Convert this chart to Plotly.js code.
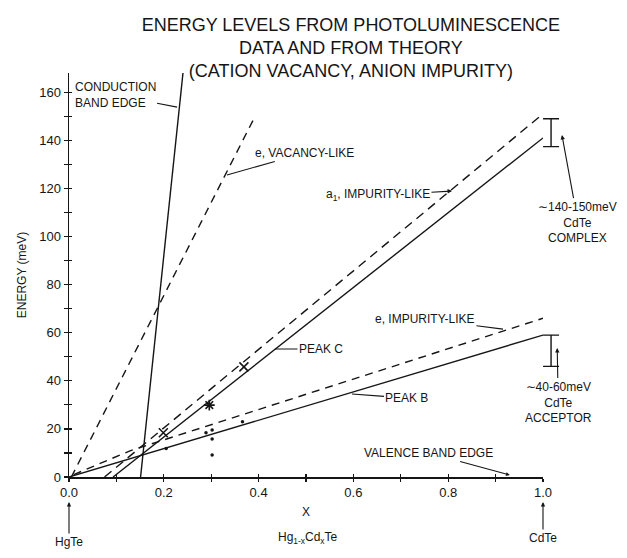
<!DOCTYPE html>
<html>
<head>
<meta charset="utf-8">
<script src="https://cdn.plot.ly/plotly-3.0.1.min.js"></script>
<style>html,body{margin:0;padding:0;background:#fff;}#chart{width:627px;height:558px;}</style>
</head>
<body>
<div id="chart"></div>
<script>
// ---- data ----
const xConduction = [0.151, 0.241];
const yConduction = [0, 169];
const xVacancy = [0.005, 0.39];
const yVacancy = [0, 149];
const xA1 = [0.075, 1.0];
const yA1 = [0, 151];
const xPeakC = [0.093, 1.0];
const yPeakC = [0, 141];
const xEImp = [0.01, 0.13, 1.0];
const yEImp = [1, 11, 66];
const xPeakB = [0, 1.0];
const yPeakB = [0, 59];
const xPeakCData = [0.199, 0.296, 0.369];
const yPeakCData = [18.4, 29.9, 45.8];
const symPeakCData = ['x-thin-open', 'asterisk-open', 'x-thin-open'];
const xDots = [0.205, 0.289, 0.302, 0.302, 0.302, 0.366];
const yDots = [11.9, 18.4, 19.5, 15.8, 9.1, 23.0];
const xCdTe = [1.017, 1.017];
const yCdTeMid = [143.2, 52.5];
const yCdTeHalf = [5.8, 6.5];
const xTicks = [0, 0.2, 0.4, 0.6, 0.8, 1.0];
const yTicks = [0, 20, 40, 60, 80, 100, 120, 140, 160];

const ink = '#151515';
const FONT = 'Liberation Sans, Arial, sans-serif';
const X_MAX = 1.0, Y_MAX = 168;
const PLOT_W = 498, AXIS_W = 474;          // px: full plot strip, main x-axis length
const X3_MAX = X_MAX * PLOT_W / AXIS_W;    // same scale, wider strip for the CdTe bars

const line = (x, y, dash) => ({
  x: x, y: y, mode: 'lines', type: 'scatter', hoverinfo: 'skip',
  line: {color: ink, width: 1.4, dash: dash || 'solid'}, showlegend: false
});

const data = [
  line(xConduction, yConduction),
  line(xVacancy, yVacancy, '8px,6px'),
  line(xA1, yA1, '9px,6px'),
  line(xPeakC, yPeakC),
  line(xEImp, yEImp, '8px,6px'),
  line(xPeakB, yPeakB),
  {x: xPeakCData, y: yPeakCData, mode: 'markers', type: 'scatter', showlegend: false,
   marker: {symbol: symPeakCData, size: 9, color: ink, line: {color: ink, width: 1.6}}},
  {x: xDots, y: yDots, mode: 'markers', type: 'scatter', showlegend: false,
   marker: {symbol: 'circle', size: 3.5, color: ink}},
  {x: xCdTe, y: yCdTeMid, xaxis: 'x3', yaxis: 'y', mode: 'markers', type: 'scatter', showlegend: false,
   marker: {size: 1, color: 'rgba(0,0,0,0)'},
   error_y: {type: 'data', array: yCdTeHalf, visible: true, color: ink, thickness: 1.4, width: 8}},
  {x: [], y: [], xaxis: 'x2', yaxis: 'y2', type: 'scatter', showlegend: false}
];

const af = {family: FONT, size: 12, color: ink};
const ann = (x, y, text, ax, ay, opts) => Object.assign({
  x: x, y: y, xref: 'x3', yref: 'y', text: text, showarrow: true, ax: ax, ay: ay,
  arrowhead: 0, arrowwidth: 1.1, arrowcolor: ink, font: af
}, opts || {});
const yp = v => v / Y_MAX;   // data y -> paper y (for labels below the axis)

const annotations = [
  ann(0.228, 153.8, 'CONDUCTION<br>BAND EDGE', -62, -12, {align: 'left'}),
  ann(0.3333, 125.6, 'e, VACANCY-LIKE', 78, -22),
  ann(0.808, 118.9, 'a<sub>1</sub>, IMPURITY-LIKE', -74, 4, {arrowhead: 2, arrowsize: 0.8}),
  ann(0.4346, 53.2, 'PEAK C', 46, 0),
  ann(0.9156, 61.5, 'e, IMPURITY-LIKE', -78, -10),
  ann(0.597, 34.5, 'PEAK B', 55, 4),
  ann(0.930, 0.8, 'VALENCE BAND EDGE', -81, -22, {arrowhead: 2, arrowsize: 0.7}),
  ann(1.030, 53.6, '∼40-60meV<br>CdTe<br>ACCEPTOR', 1, 54, {arrowhead: 2, arrowsize: 0.8}),
  ann(1.040, 142.2, '∼140-150meV<br>CdTe<br>COMPLEX', 16, 87, {arrowhead: 2, arrowsize: 0.8}),
  ann(0, yp(-10.4), 'HgTe', 0, 40, {yref: 'paper', arrowhead: 2, arrowsize: 0.8}),
  ann(1.0, yp(-10.4), 'CdTe', 0, 36, {yref: 'paper', arrowhead: 2, arrowsize: 0.8}),
  {x: 0.504, y: yp(-29.5), xref: 'x3', yref: 'paper', showarrow: false, font: af,
   text: 'Hg<sub>1-x</sub>Cd<sub>x</sub>Te'}
];

const noAxis = {showline: false, showgrid: false, zeroline: false, showticklabels: false, ticks: ''};

const layout = {
  width: 627, height: 558,
  margin: {l: 69, r: 627 - 69 - PLOT_W, t: 73, b: 81},
  paper_bgcolor: '#fff', plot_bgcolor: 'rgba(0,0,0,0)',
  font: {family: FONT, color: ink, size: 13},
  showlegend: false,
  title: {
    text: 'ENERGY LEVELS FROM PHOTOLUMINESCENCE<br>DATA AND FROM THEORY<br>(CATION VACANCY, ANION IMPURITY)',
    x: 0.566, xanchor: 'center', xref: 'paper', y: 0.945, yanchor: 'top', yref: 'container',
    font: {family: FONT, size: 18, color: ink}
  },
  xaxis: {
    domain: [0, AXIS_W / PLOT_W],
    range: [0, X_MAX], tickvals: xTicks, tickformat: '.1f',
    ticks: 'outside', ticklen: 3, tickwidth: 1.2, tickcolor: ink,
    minor: {dtick: 0.1, tick0: 0, ticks: 'outside', ticklen: 3, tickwidth: 1.2, tickcolor: ink},
    showline: true, linecolor: ink, linewidth: 1.5, showgrid: false, zeroline: false,
    tickfont: {family: FONT, size: 13, color: ink},
    title: {text: 'X', standoff: 8, font: {family: FONT, size: 12, color: ink}}
  },
  yaxis: {
    range: [0, Y_MAX], tickvals: yTicks,
    ticks: 'outside', ticklen: 4, tickwidth: 1.2, tickcolor: ink,
    minor: {dtick: 10, tick0: 0, ticks: 'outside', ticklen: 4, tickwidth: 1.2, tickcolor: ink},
    showline: true, linecolor: ink, linewidth: 1.5, showgrid: false, zeroline: false,
    tickfont: {family: FONT, size: 13, color: ink},
    title: {text: 'ENERGY (meV)', standoff: 10, font: {family: FONT, size: 12, color: ink}}
  },
  xaxis2: {overlaying: 'x', anchor: 'y2', side: 'bottom', range: [0, X_MAX], dtick: 0.1, tick0: 0,
    ticks: 'inside', ticklen: 3, tickwidth: 1.2, tickcolor: ink, showticklabels: false,
    showline: false, showgrid: false, zeroline: false},
  yaxis2: {overlaying: 'y', anchor: 'x2', side: 'left', range: [0, Y_MAX], dtick: 10, tick0: 0,
    ticks: 'inside', ticklen: 3, tickwidth: 1.2, tickcolor: ink, showticklabels: false,
    showline: false, showgrid: false, zeroline: false},
  xaxis3: Object.assign({domain: [0, 1], anchor: 'y', range: [0, X3_MAX]}, noAxis),
  annotations: annotations
};

Plotly.newPlot('chart', data, layout, {staticPlot: true});
</script>
</body>
</html>
